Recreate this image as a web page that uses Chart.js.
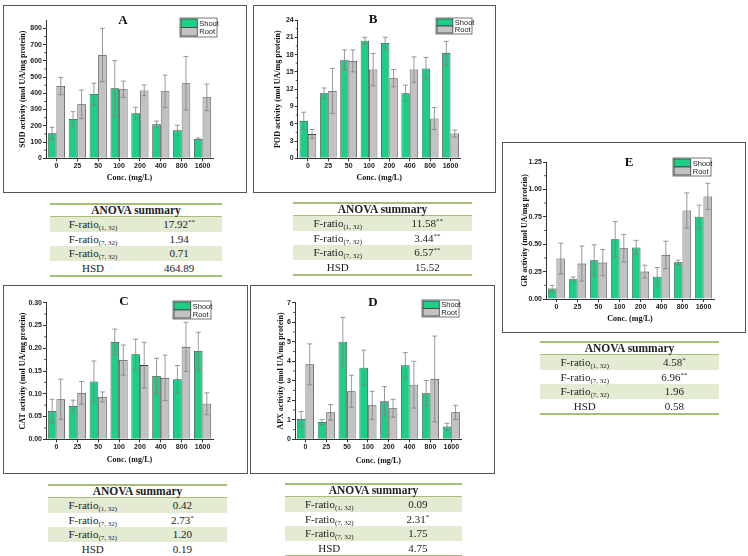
<!doctype html>
<html>
<head>
<meta charset="utf-8">
<title>Enzyme activity - shoot and root</title>
<script src="https://cdn.jsdelivr.net/npm/chart.js@4.4.1/dist/chart.umd.min.js"></script>
<style>
  body { margin:0; background:#fff; }
  #page { position:relative; width:748px; height:556px; overflow:hidden; }
  canvas { position:absolute; }
  .frame { position:absolute; border:1px solid #555; box-sizing:border-box; pointer-events:none; }
  .anova { position:absolute; font-family:"Liberation Serif", serif; color:#222;
           border-top:2px solid #a6be78; border-bottom:2px solid #a6be78; }
  .anova .hd { height:11px; line-height:11px; text-align:center; font-weight:bold; font-size:11.5px;
               border-bottom:1.5px solid #a6be78; }
  .anova .row { height:14.5px; line-height:14.5px; display:flex; font-size:11px; }
  .anova .shade { background:#e3ebd2; }
  .anova .row span { flex:1; text-align:center; }
  .anova sub { font-size:7px; vertical-align:-2px; line-height:0; }
  .anova sup { font-size:7px; vertical-align:4px; line-height:0; }
</style>
</head>
<body>
<div id="page"></div>
<script>
// data
const concLabels = ['0', '25', '50', '100', '200', '400', '800', '1600'];

const sodShoot    = [154, 242, 396, 431, 277, 209, 172, 119];
const sodShootErr = [37, 45, 66, 170, 37, 20, 32, 6];
const sodRoot     = [445, 332, 636, 425, 418, 412, 462, 375];
const sodRootErr  = [53, 88, 164, 50, 33, 100, 165, 82];

const podShoot    = [6.5, 11.3, 17.1, 20.4, 20.0, 11.3, 15.6, 18.3];
const podShootErr = [1.5, 0.9, 1.7, 0.6, 1.0, 1.4, 1.9, 2.0];
const podRoot     = [4.2, 11.7, 16.9, 15.4, 13.9, 15.4, 6.9, 4.3];
const podRootErr  = [0.8, 3.9, 1.9, 2.8, 1.5, 2.2, 1.9, 0.6];

const catShoot    = [0.062, 0.073, 0.127, 0.214, 0.187, 0.139, 0.132, 0.194];
const catShootErr = [0.026, 0.013, 0.045, 0.028, 0.033, 0.039, 0.030, 0.041];
const catRoot     = [0.088, 0.102, 0.093, 0.174, 0.163, 0.135, 0.203, 0.078];
const catRootErr  = [0.044, 0.025, 0.011, 0.033, 0.050, 0.050, 0.054, 0.024];

const apxShoot    = [1.04, 0.89, 5.0, 3.67, 1.95, 3.79, 2.36, 0.65];
const apxShootErr = [0.38, 0.13, 1.25, 0.9, 0.75, 0.65, 0.65, 0.17];
const apxRoot     = [3.84, 1.38, 2.46, 1.74, 1.59, 2.80, 3.09, 1.38];
const apxRootErr  = [1.05, 0.4, 0.82, 0.72, 0.46, 1.2, 2.2, 0.36];

const grShoot     = [0.095, 0.18, 0.354, 0.546, 0.47, 0.204, 0.335, 0.75];
const grShootErr  = [0.03, 0.02, 0.14, 0.16, 0.065, 0.083, 0.02, 0.107];
const grRoot      = [0.369, 0.323, 0.332, 0.463, 0.25, 0.402, 0.808, 0.936];
const grRootErr   = [0.14, 0.16, 0.12, 0.125, 0.058, 0.125, 0.16, 0.12];

const anovaDf = ['(1, 32)', '(7, 32)', '(7, 32)'];
const anovaSod = ['17.92', '1.94', '0.71', '464.89'];
const anovaSodSig = ['**', '', '', ''];
const anovaPod = ['11.58', '3.44', '6.57', '15.52'];
const anovaPodSig = ['**', '**', '**', ''];
const anovaCat = ['0.42', '2.73', '1.20', '0.19'];
const anovaCatSig = ['', '*', '', ''];
const anovaApx = ['0.09', '2.31', '1.75', '4.75'];
const anovaApxSig = ['', '*', '', ''];
const anovaGr = ['4.58', '6.96', '1.96', '0.58'];
const anovaGrSig = ['*', '**', '', ''];

const GREEN = '#1dcf86', GRAY = '#c2c2c2', EDGE = '#3c3c3c', AXIS = '#333';

// error bars drawn through the y scale
const errorBars = {
  id: 'errorBars',
  afterDatasetsDraw(chart) {
    const ctx = chart.ctx, ys = chart.scales.y;
    ctx.save();
    ctx.strokeStyle = '#808080';
    ctx.lineWidth = 0.8;
    chart.data.datasets.forEach((ds, i) => {
      chart.getDatasetMeta(i).data.forEach((bar, j) => {
        const top = ys.getPixelForValue(ds.data[j] + ds.err[j]);
        const bot = ys.getPixelForValue(ds.data[j] - ds.err[j]);
        ctx.beginPath();
        ctx.moveTo(bar.x, top); ctx.lineTo(bar.x, bot);
        ctx.moveTo(bar.x - 2.5, top); ctx.lineTo(bar.x + 2.5, top);
        ctx.moveTo(bar.x - 2.5, bot); ctx.lineTo(bar.x + 2.5, bot);
        ctx.stroke();
      });
    });
    ctx.restore();
  }
};

// minor ticks on y between the majors
const minorTicks = {
  id: 'minorTicks',
  afterDraw(chart) {
    const ys = chart.scales.y, ctx = chart.ctx, x = chart.chartArea.left;
    ctx.save();
    ctx.strokeStyle = AXIS;
    ctx.lineWidth = 0.8;
    for (let i = 0; i < ys.ticks.length - 1; i++) {
      const py = ys.getPixelForValue((ys.ticks[i].value + ys.ticks[i + 1].value) / 2);
      ctx.beginPath(); ctx.moveTo(x, py); ctx.lineTo(x - 2, py); ctx.stroke();
    }
    ctx.restore();
  }
};

// panel letter and boxed legend
const panelDecor = {
  id: 'panelDecor',
  afterDraw(chart, args, o) {
    const ctx = chart.ctx;
    ctx.save();
    ctx.fillStyle = '#111';
    ctx.font = 'bold 13px "Liberation Serif"';
    ctx.textAlign = 'center';
    ctx.textBaseline = 'middle';
    ctx.fillText(o.letter, o.lx, o.ly);

    const [x, y, w, h] = o.legend;
    const sw = w * 0.44, half = (h - 2) / 2;
    ctx.lineWidth = 0.8;
    ctx.strokeStyle = '#555';
    ctx.fillStyle = '#fff';
    ctx.fillRect(x, y, w, h);
    ctx.strokeRect(x, y, w, h);
    chart.data.datasets.forEach((ds, i) => {
      const sy = y + 1 + i * half;
      ctx.fillStyle = ds.backgroundColor;
      ctx.fillRect(x + 1, sy, sw, half);
      ctx.strokeStyle = EDGE;
      ctx.strokeRect(x + 1, sy, sw, half);
      ctx.fillStyle = '#222';
      ctx.font = '7.5px "Liberation Sans"';
      ctx.textAlign = 'left';
      ctx.fillText(ds.label, x + sw + 3, sy + half / 2 + 0.5);
    });
    ctx.restore();
  }
};

const panels = [
  { letter: 'A', ytitle: 'SOD activity (mol UA/mg protein)', shoot: sodShoot, shootErr: sodShootErr, root: sodRoot, rootErr: sodRootErr,
    max: 850, step: 100, dec: 0,
    box: [3, 5, 244, 188], plot: [46, 213, 20.2, 158.3], yTitleX: 23, xTitleY: 178, title: [123, 21], legend: [180, 18, 37, 19] },
  { letter: 'B', ytitle: 'POD activity (mol UA/mg protein)', shoot: podShoot, shootErr: podShootErr, root: podRoot, rootErr: podRootErr,
    max: 24, step: 3, dec: 0,
    box: [253, 5, 243, 188], plot: [297.7, 460.7, 20, 158.3], yTitleX: 278, xTitleY: 178, title: [373, 20], legend: [436, 18, 36, 16] },
  { letter: 'C', ytitle: 'CAT activity (mol UA/mg protein)', shoot: catShoot, shootErr: catShootErr, root: catRoot, rootErr: catRootErr,
    max: 0.30, step: 0.05, dec: 2,
    box: [3, 285, 245, 189], plot: [46, 213, 302.7, 439.3], yTitleX: 23, xTitleY: 460, title: [124, 302], legend: [173, 301, 38, 18] },
  { letter: 'D', ytitle: 'APX activity (mol UA/mg protein)', shoot: apxShoot, shootErr: apxShootErr, root: apxRoot, rootErr: apxRootErr,
    max: 7, step: 1, dec: 0,
    box: [250, 285, 245, 189], plot: [295, 461.7, 302.7, 439.3], yTitleX: 281, xTitleY: 461, title: [373, 303], legend: [422, 300, 37, 17] },
  { letter: 'E', ytitle: 'GR activity (mol UA/mg protein)', shoot: grShoot, shootErr: grShootErr, root: grRoot, rootErr: grRootErr,
    max: 1.25, step: 0.25, dec: 2,
    box: [502, 142, 244, 191], plot: [546, 714, 162, 299], yTitleX: 525, xTitleY: 319, title: [629, 163], legend: [673, 158, 38, 18] }
];

const tables = [
  { vals: anovaSod, sig: anovaSodSig, x: 50, y: 203, w: 172 },
  { vals: anovaPod, sig: anovaPodSig, x: 293, y: 202, w: 179 },
  { vals: anovaCat, sig: anovaCatSig, x: 48, y: 484, w: 179 },
  { vals: anovaApx, sig: anovaApxSig, x: 285, y: 483, w: 177 },
  { vals: anovaGr, sig: anovaGrSig, x: 540, y: 341, w: 179 }
];

const page = document.getElementById('page');

function buildPanel(p) {
  const [bx, by, bw, bh] = p.box;
  const canvas = document.createElement('canvas');
  canvas.width = bw; canvas.height = bh;
  canvas.style.left = bx + 'px'; canvas.style.top = by + 'px';
  page.appendChild(canvas);
  const frame = document.createElement('div');
  frame.className = 'frame';
  frame.style.cssText = `left:${bx}px;top:${by}px;width:${bw}px;height:${bh}px;`;
  page.appendChild(frame);

  const L = p.plot[0] - bx, R = p.plot[1] - bx, T = p.plot[2] - by, B = p.plot[3] - by;
  const tickFont = { family: 'Liberation Sans', weight: 'bold', size: 7 };
  const titleFont = { family: 'Liberation Serif', weight: 'bold', size: 8 };

  new Chart(canvas, {
    type: 'bar',
    data: {
      labels: concLabels,
      datasets: [
        { label: 'Shoot', data: p.shoot, err: p.shootErr, backgroundColor: GREEN, borderColor: EDGE, borderWidth: 0.8 },
        { label: 'Root', data: p.root, err: p.rootErr, backgroundColor: GRAY, borderColor: EDGE, borderWidth: 0.8 }
      ]
    },
    options: {
      responsive: false,
      animation: false,
      layout: { padding: { left: 0, top: T, right: bw - R, bottom: 0 } },
      datasets: { bar: { categoryPercentage: 0.82, barPercentage: 1 } },
      plugins: {
        legend: { display: false },
        tooltip: { enabled: false },
        panelDecor: { letter: p.letter, lx: p.title[0] - bx, ly: p.title[1] - by,
                      legend: [p.legend[0] - bx, p.legend[1] - by, p.legend[2], p.legend[3]] }
      },
      scales: {
        x: {
          grid: { drawOnChartArea: false, offset: false, tickLength: 3, color: AXIS },
          border: { color: AXIS, width: 1 },
          ticks: { font: tickFont, color: '#222', padding: 1, maxRotation: 0, autoSkip: false },
          title: { display: true, text: 'Conc. (mg/L)', font: titleFont, color: '#111',
                   padding: { top: 0, bottom: bh - (p.xTitleY - by) - 4.8 } },
          afterFit: s => { s.height = bh - B; }
        },
        y: {
          min: 0, max: p.max,
          grid: { drawOnChartArea: false, tickLength: 3, color: AXIS },
          border: { color: AXIS, width: 1 },
          ticks: { stepSize: p.step, includeBounds: false, font: tickFont, color: '#222', padding: 1,
                   callback: v => Number(v).toFixed(p.dec) },
          title: { display: true, text: p.ytitle, font: titleFont, color: '#111',
                   padding: { top: (p.yTitleX - bx) - 4.8, bottom: 0 } },
          afterFit: s => { s.width = L; }
        }
      }
    },
    plugins: [errorBars, minorTicks, panelDecor]
  });
}

function buildTable(t) {
  const div = document.createElement('div');
  div.className = 'anova';
  div.style.cssText = `left:${t.x}px;top:${t.y}px;width:${t.w}px;`;
  let html = '<div class="hd">ANOVA summary</div>';
  t.vals.forEach((v, i) => {
    const lab = i < 3 ? 'F-ratio<sub>' + anovaDf[i] + '</sub>' : 'HSD';
    const star = t.sig[i] ? '<sup>' + t.sig[i] + '</sup>' : '';
    html += `<div class="row${i % 2 === 0 ? ' shade' : ''}"><span>${lab}</span><span>${v}${star}</span></div>`;
  });
  div.innerHTML = html;
  page.appendChild(div);
}

panels.forEach(buildPanel);
tables.forEach(buildTable);
</script>
</body>
</html>
